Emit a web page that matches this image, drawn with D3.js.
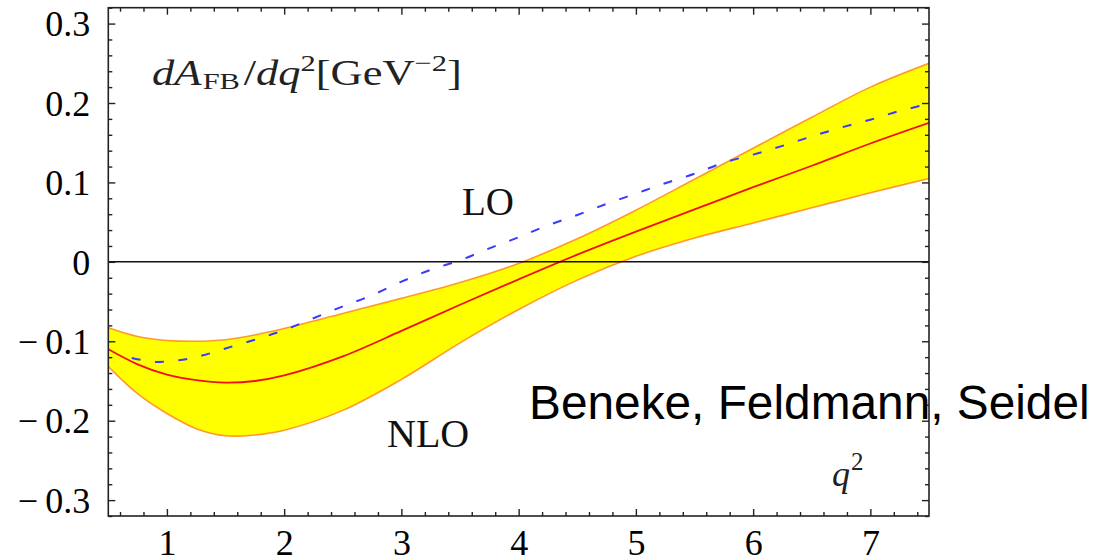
<!DOCTYPE html>
<html>
<head>
<meta charset="utf-8">
<script src="https://cdn.jsdelivr.net/npm/d3@7"></script>
<style>
  body { margin: 0; background: #fff; }
  svg { display: block; }
</style>
</head>
<body>
<div id="chart"></div>
<script>
// q^2 grid for the NLO band and its central curve
const q2 = [0.5, 0.75, 1.0, 1.25, 1.5, 1.75, 2.0, 2.5, 3.0, 3.5, 4.0, 4.5, 5.0, 5.5, 6.0, 6.5, 7.0, 7.5];
const nloUpper = [-0.083, -0.094, -0.099, -0.100, -0.098, -0.092, -0.084, -0.065, -0.046, -0.026, -0.002, 0.029, 0.065, 0.104, 0.143, 0.182, 0.220, 0.250];
const nloCentral = [-0.110, -0.129, -0.142, -0.149, -0.152, -0.150, -0.143, -0.119, -0.087, -0.054, -0.022, 0.009, 0.038, 0.066, 0.094, 0.121, 0.149, 0.175];
const nloLower = [-0.132, -0.166, -0.191, -0.210, -0.219, -0.218, -0.212, -0.187, -0.148, -0.102, -0.060, -0.023, 0.007, 0.030, 0.049, 0.068, 0.087, 0.105];

// LO curve (dashed)
const loQ2 = [0.7, 0.9, 1.1, 1.3, 1.5, 1.75, 2.0, 2.25, 2.5, 2.75, 3.0, 3.25, 3.5, 3.75, 4.0, 4.25, 4.5, 4.75, 5.0, 5.25, 5.5, 5.75, 6.0, 6.25, 6.5, 6.75, 7.0, 7.25, 7.5];
const loValues = [-0.121, -0.126, -0.124, -0.118, -0.109, -0.098, -0.086, -0.071, -0.056, -0.042, -0.025, -0.010, 0.002, 0.017, 0.031, 0.046, 0.059, 0.073, 0.086, 0.099, 0.111, 0.125, 0.135, 0.146, 0.158, 0.169, 0.179, 0.190, 0.199];

// ticks
const xTicks = [1, 2, 3, 4, 5, 6, 7];
const yTicks = [-0.3, -0.2, -0.1, 0, 0.1, 0.2, 0.3];

const W = 1102, H = 560;
const margin = { top: 7.7, right: 173, bottom: 44, left: 108.3 };
const width = W - margin.left - margin.right;
const height = H - margin.top - margin.bottom;

const svg = d3.select("#chart").append("svg")
    .attr("width", W)
    .attr("height", H);

const g = svg.append("g")
    .attr("transform", `translate(${margin.left},${margin.top})`);

const x = d3.scaleLinear().domain([0.5, 7.5]).range([0, width]);
const y = d3.scaleLinear().domain([-0.32, 0.32]).range([height, 0]);

g.append("clipPath").attr("id", "clip")
  .append("rect").attr("width", width).attr("height", height);

const plot = g.append("g").attr("clip-path", "url(#clip)");

const band = q2.map((q, i) => ({ q, lo: nloLower[i], hi: nloUpper[i], c: nloCentral[i] }));

const curve = d3.curveCatmullRom.alpha(0.5);

// yellow band
plot.append("path")
    .datum(band)
    .attr("fill", "#ffff00")
    .attr("d", d3.area().curve(curve)
        .x(d => x(d.q)).y0(d => y(d.lo)).y1(d => y(d.hi)));

// band edges
["hi", "lo"].forEach(k => {
    plot.append("path")
        .datum(band)
        .attr("fill", "none")
        .attr("stroke", "#ff9a2a")
        .attr("stroke-width", 1.6)
        .attr("d", d3.line().curve(curve).x(d => x(d.q)).y(d => y(d[k])));
});

// central NLO
plot.append("path")
    .datum(band)
    .attr("fill", "none")
    .attr("stroke", "#f01010")
    .attr("stroke-width", 1.8)
    .attr("d", d3.line().curve(curve).x(d => x(d.q)).y(d => y(d.c)));

// LO dashed
plot.append("path")
    .datum(loQ2.map((q, i) => ({ q, v: loValues[i] })))
    .attr("fill", "none")
    .attr("stroke", "#3a3aff")
    .attr("stroke-width", 2)
    .attr("stroke-dasharray", "9,14.5")
    .attr("d", d3.line().curve(curve).x(d => x(d.q)).y(d => y(d.v)));

// zero line
g.append("line")
    .attr("x1", 0).attr("x2", width)
    .attr("y1", y(0)).attr("y2", y(0))
    .attr("stroke", "#111")
    .attr("stroke-width", 1.5);

// frame ticks (inward, on all sides)
const xMinor = d3.range(0.6, 7.5, 0.2).filter(v => Math.abs(v - Math.round(v)) > 0.01);
const yMinor = d3.range(-0.32, 0.321, 0.02).filter(v => Math.abs(v * 10 - Math.round(v * 10)) > 0.01);

function tickGroup(axis, transform) {
    const a = g.append("g").attr("transform", transform).call(axis);
    a.select(".domain").remove();
    a.selectAll("line").attr("stroke", "#222").attr("stroke-width", 1.4);
    return a;
}

const fmtY = d => d < 0 ? "\u2212\u2009" + Math.abs(d).toFixed(1) : (d === 0 ? "0" : d.toFixed(1));

// bottom
const xb = tickGroup(d3.axisBottom(x).tickValues(xTicks).tickSize(-7).tickFormat(d3.format("d")), `translate(0,${height})`);
xb.selectAll("text")
    .attr("y", 38.5).attr("dy", 0)
    .attr("font-family", "'Liberation Serif', 'Times New Roman', serif")
    .attr("font-size", 36).attr("fill", "#000");
tickGroup(d3.axisBottom(x).tickValues(xMinor).tickSize(-4).tickFormat(""), `translate(0,${height})`);
// top
tickGroup(d3.axisTop(x).tickValues(xTicks).tickSize(-7).tickFormat(""), "translate(0,0)");
tickGroup(d3.axisTop(x).tickValues(xMinor).tickSize(-4).tickFormat(""), "translate(0,0)");
// left
const yl = tickGroup(d3.axisLeft(y).tickValues(yTicks).tickSize(-7).tickFormat(fmtY), "translate(0,0)");
yl.selectAll("text")
    .attr("x", -18).attr("dy", "0.34em")
    .attr("font-family", "'Liberation Serif', 'Times New Roman', serif")
    .attr("font-size", 36).attr("fill", "#000");
tickGroup(d3.axisLeft(y).tickValues(yMinor).tickSize(-4).tickFormat(""), "translate(0,0)");
// right
tickGroup(d3.axisRight(y).tickValues(yTicks).tickSize(-7).tickFormat(""), `translate(${width},0)`);
tickGroup(d3.axisRight(y).tickValues(yMinor).tickSize(-4).tickFormat(""), `translate(${width},0)`);

// frame
g.append("rect")
    .attr("width", width).attr("height", height)
    .attr("fill", "none")
    .attr("stroke", "#222")
    .attr("stroke-width", 1.6);

// annotations
const serif = "'Liberation Serif', 'Times New Roman', serif";

// the TeX-style label is wider than Times, so stretch it a bit
const title = svg.append("text")
    .attr("transform", "translate(152,85) scale(1.27,1)")
    .attr("font-family", serif)
    .attr("font-size", 35)
    .attr("fill", "#222");
title.append("tspan").attr("font-style", "italic").text("dA");
title.append("tspan").attr("font-size", 24).attr("dy", 4).attr("dx", 1).text("FB");
title.append("tspan").attr("dy", -4).attr("dx", 3).text("/");
title.append("tspan").attr("font-style", "italic").text("dq");
title.append("tspan").attr("font-size", 24).attr("dy", -14).text("2");
title.append("tspan").attr("dy", 14).text("[GeV");
title.append("tspan").attr("font-size", 24).attr("dy", -14).text("\u22122");
title.append("tspan").attr("dy", 14).text("]");

svg.append("text")
    .attr("x", 462).attr("y", 215)
    .attr("font-family", serif).attr("font-size", 39).attr("fill", "#111")
    .text("LO");

svg.append("text")
    .attr("x", 387).attr("y", 447)
    .attr("font-family", serif).attr("font-size", 40).attr("fill", "#111")
    .text("NLO");

const ql = svg.append("text")
    .attr("x", 832).attr("y", 486)
    .attr("font-family", serif).attr("font-size", 36).attr("fill", "#222");
ql.append("tspan").attr("font-style", "italic").text("q");
ql.append("tspan").attr("font-size", 25).attr("dy", -16).attr("dx", 1).text("2");

svg.append("text")
    .attr("x", 529).attr("y", 419)
    .attr("font-family", "'Liberation Sans', Arial, sans-serif")
    .attr("font-size", 47.8).attr("fill", "#000")
    .text("Beneke, Feldmann, Seidel");
</script>
</body>
</html>
